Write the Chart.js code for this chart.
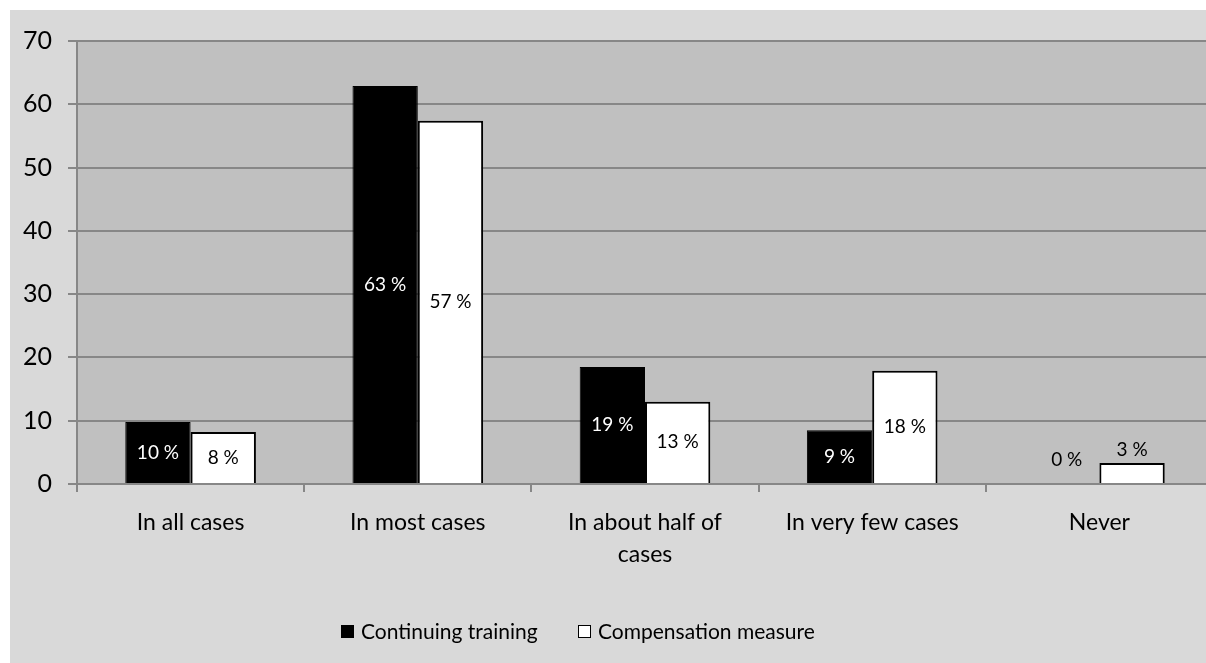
<!DOCTYPE html>
<html>
<head>
<meta charset="utf-8">
<script src="https://cdn.jsdelivr.net/npm/chart.js@4/dist/chart.umd.min.js"></script>
<style>
  html, body { margin: 0; padding: 0; background: #fff; overflow: hidden; width: 1206px; height: 663px; }
  #wrap { position: absolute; left: 10px; top: 10px; width: 1220px; height: 653px; background: #d9d9d9; }
</style>
</head>
<body>
<div id="wrap"><canvas id="chart" width="1220" height="653"></canvas></div>
<script>
// values
const categories = ['In all cases', 'In most cases', ['In about half of', 'cases'], 'In very few cases', 'Never'];
const continuingTraining  = [9.8, 62.9, 18.5, 8.5, 0];
const compensationMeasure = [8.2, 57.4, 13.0, 17.9, 3.3];
const trainingLabels      = ['10 %', '63 %', '19 %', '9 %', '0 %'];
const compensationLabels  = ['8 %', '57 %', '13 %', '18 %', '3 %'];
const seriesNames = ['Continuing training', 'Compensation measure'];
const yMax = 70, yStep = 10;

const FONT = 'Lato, "Open Sans", sans-serif';
const GRID = '#878787';

// bar value labels, centred in the bar (above it when the bar is too short)
const barLabels = {
  id: 'barLabels',
  afterDatasetsDraw(chart) {
    const ctx = chart.ctx;
    const texts = [trainingLabels, compensationLabels];
    ctx.save();
    ctx.font = '19px ' + FONT;
    ctx.textAlign = 'center';
    ctx.textBaseline = 'middle';
    chart.data.datasets.forEach((ds, di) => {
      chart.getDatasetMeta(di).data.forEach((bar, i) => {
        const h = bar.base - bar.y;
        let y = bar.y + h / 2;
        let color = di === 0 ? '#fff' : '#000';
        if (h < 26) {
          y = ds.data[i] === 0 ? bar.base - 24 : bar.y - 13;
          color = '#000';
        }
        ctx.fillStyle = color;
        ctx.fillText(texts[di][i], bar.x, y);
      });
    });
    ctx.restore();
  }
};

// legend at the bottom, drawn by hand so it can sit where the reference has it
const bottomLegend = {
  id: 'bottomLegend',
  afterDraw(chart) {
    const ctx = chart.ctx;
    const y = 622;
    let x = 331;
    ctx.save();
    ctx.font = '21px ' + FONT;
    ctx.textBaseline = 'middle';
    chart.data.datasets.forEach((ds, di) => {
      ctx.fillStyle = ds.backgroundColor;
      ctx.fillRect(x, y - 7, 13, 13);
      ctx.strokeStyle = '#000';
      ctx.lineWidth = 1;
      ctx.strokeRect(x + 0.5, y - 6.5, 12, 12);
      ctx.fillStyle = '#000';
      ctx.fillText(seriesNames[di], x + 20, y);
      x += 237;
    });
    ctx.restore();
  }
};

new Chart(document.getElementById('chart'), {
  type: 'bar',
  data: {
    labels: categories,
    datasets: [
      { label: seriesNames[0], data: continuingTraining, backgroundColor: '#000', borderColor: '#000', borderWidth: 1 },
      { label: seriesNames[1], data: compensationMeasure, backgroundColor: '#fff', borderColor: '#000', borderWidth: 2 }
    ]
  },
  options: {
    responsive: false,
    animation: false,
    layout: { padding: { top: 30, right: 17, left: 0, bottom: 0 } },
    datasets: { bar: { categoryPercentage: 0.575, barPercentage: 1 } },
    plugins: {
      legend: { display: false },
      tooltip: { enabled: false }
    },
    scales: {
      x: {
        grid: { drawOnChartArea: false, drawTicks: true, tickLength: 8, color: GRID, lineWidth: 2, offset: true },
        border: { color: GRID, width: 2 },
        ticks: { color: '#000', font: { family: FONT, size: 23, lineHeight: 1.4 }, padding: 14, maxRotation: 0, autoSkip: false },
        afterFit(scale) { scale.height = 179; }
      },
      y: {
        min: 0, max: yMax,
        grid: { color: GRID, lineWidth: 2, tickLength: 9 },
        border: { color: GRID, width: 2 },
        ticks: { stepSize: yStep, color: '#000', font: { family: FONT, size: 25 }, padding: 16 },
        afterFit(scale) { scale.width = 67; }
      }
    }
  },
  plugins: [
    {
      id: 'plotBg',
      beforeDraw(chart) {
        const a = chart.chartArea, ctx = chart.ctx;
        ctx.save();
        ctx.fillStyle = '#c0c0c0';
        ctx.fillRect(a.left, a.top, a.right - a.left, a.bottom - a.top);
        ctx.restore();
      }
    },
    barLabels,
    bottomLegend
  ]
});
</script>
</body>
</html>
